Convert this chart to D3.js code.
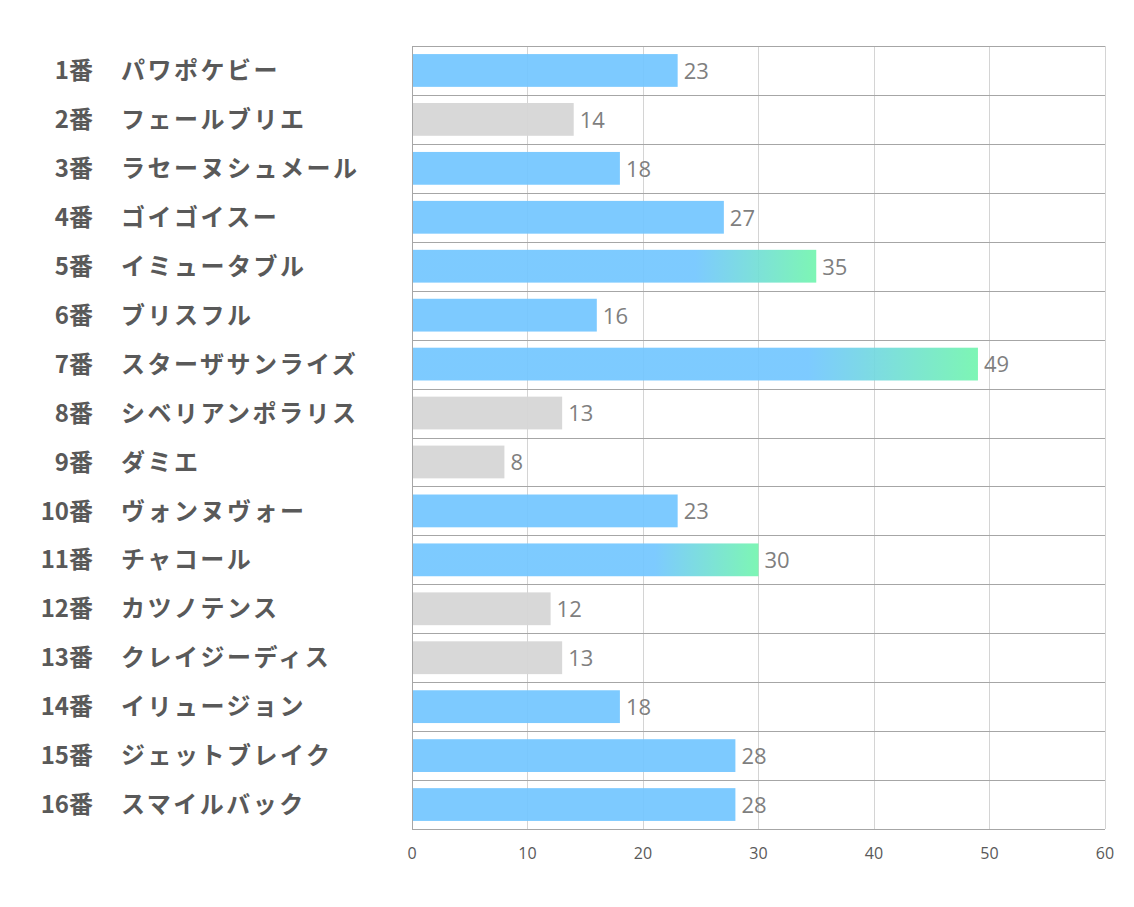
<!DOCTYPE html>
<html>
<head>
<meta charset="utf-8">
<script src="https://cdn.jsdelivr.net/npm/d3@7"></script>
<style>
  body { margin: 0; background: #fff; }
  svg { display: block; }
</style>
</head>
<body>
<svg id="chart" width="1134" height="907"></svg>
<script>
const width = 1134, height = 907;
const margin = {top: 46, right: 29, bottom: 78, left: 412};

// data
const numbers = ["1番","2番","3番","4番","5番","6番","7番","8番","9番","10番","11番","12番","13番","14番","15番","16番"];
const names = ["パワポケビー","フェールブリエ","ラセーヌシュメール","ゴイゴイスー","イミュータブル","ブリスフル","スターザサンライズ","シベリアンポラリス","ダミエ","ヴォンヌヴォー","チャコール","カツノテンス","クレイジーディス","イリュージョン","ジェットブレイク","スマイルバック"];
const values = [23, 14, 18, 27, 35, 16, 49, 13, 8, 23, 30, 12, 13, 18, 28, 28];
// "blue" normal, "gray" low, "grad" highlighted
const kinds = ["blue","gray","blue","blue","grad","blue","grad","gray","gray","blue","grad","gray","gray","blue","blue","blue"];
const xTicks = [0, 10, 20, 30, 40, 50, 60];

const rows = numbers.map((n, i) => ({n, name: names[i], v: values[i], kind: kinds[i]}));

const svg = d3.select("#chart");
const iw = width - margin.left - margin.right;
const ih = height - margin.top - margin.bottom;

const x = d3.scaleLinear().domain([0, 60]).range([0, iw]);
const y = d3.scaleBand().domain(numbers).range([0, ih]).paddingInner(0.33).paddingOuter(0.165);
const rowY = d3.scaleBand().domain(numbers).range([0, ih]);

const defs = svg.append("defs");
const grad = defs.append("linearGradient").attr("id", "hl")
  .attr("x1", "0%").attr("x2", "100%").attr("y1", "0%").attr("y2", "0%");
grad.append("stop").attr("offset", "70%").attr("stop-color", "#72c6ff");
grad.append("stop").attr("offset", "100%").attr("stop-color", "#72f5ae");

const g = svg.append("g").attr("transform", `translate(${margin.left},${margin.top})`);

// vertical grid
g.append("g").selectAll("line").data(xTicks).join("line")
  .attr("x1", d => x(d)).attr("x2", d => x(d))
  .attr("y1", 0).attr("y2", ih)
  .attr("stroke", "#d4d4d4").attr("stroke-width", 1)
  .attr("shape-rendering", "crispEdges");

// row separators
const seps = numbers.map(n => rowY(n)).concat([ih]);
g.append("g").selectAll("line").data(seps).join("line")
  .attr("x1", 0).attr("x2", iw)
  .attr("y1", d => Math.round(d) + 0.5).attr("y2", d => Math.round(d) + 0.5)
  .attr("stroke", "#a6a6a6").attr("stroke-width", 1);

g.append("line").attr("x1", 0.5).attr("x2", 0.5).attr("y1", 0).attr("y2", ih)
  .attr("stroke", "#a6a6a6");

// bars
g.append("g").selectAll("rect").data(rows).join("rect")
  .attr("x", 1)
  .attr("y", d => y(d.n))
  .attr("width", d => x(d.v) - 1)
  .attr("height", y.bandwidth())
  .attr("fill", d => d.kind === "grad" ? "url(#hl)" : d.kind === "gray" ? "#d6d6d6" : "#72c6ff")
  .attr("fill-opacity", d => d.kind === "gray" ? 0.95 : 0.92);

// value labels
g.append("g").selectAll("text").data(rows).join("text")
  .attr("x", d => x(d.v) + 6)
  .attr("y", d => y(d.n) + y.bandwidth() / 2)
  .attr("dy", "0.38em")
  .attr("font-family", "'Open Sans', 'Noto Sans', sans-serif")
  .attr("font-size", 22)
  .attr("fill", "#7f7f7f")
  .text(d => d.v);

// x axis labels
g.append("g").selectAll("text").data(xTicks).join("text")
  .attr("x", d => x(d))
  .attr("y", ih + 30)
  .attr("text-anchor", "middle")
  .attr("font-family", "'Open Sans', 'Noto Sans', sans-serif")
  .attr("font-size", 16)
  .attr("fill", "#595959")
  .text(d => d);

// category labels
const lab = svg.append("g").attr("transform", `translate(0,${margin.top})`);
lab.selectAll("text.num").data(rows).join("text")
  .attr("class", "num")
  .attr("x", 93)
  .attr("y", d => y(d.n) + y.bandwidth() / 2)
  .attr("dy", "0.36em")
  .attr("text-anchor", "end")
  .attr("font-family", "'Noto Sans CJK JP', sans-serif")
  .attr("font-weight", "bold")
  .attr("font-size", 24)
  .attr("fill", "#595959")
  .text(d => d.n);
lab.selectAll("text.name").data(rows).join("text")
  .attr("class", "name")
  .attr("x", 121)
  .attr("y", d => y(d.n) + y.bandwidth() / 2)
  .attr("dy", "0.36em")
  .attr("font-family", "'Noto Sans CJK JP', sans-serif")
  .attr("font-weight", "bold")
  .attr("font-size", 24)
  .attr("letter-spacing", 2.5)
  .attr("fill", "#595959")
  .text(d => d.name);
</script>
</body>
</html>
